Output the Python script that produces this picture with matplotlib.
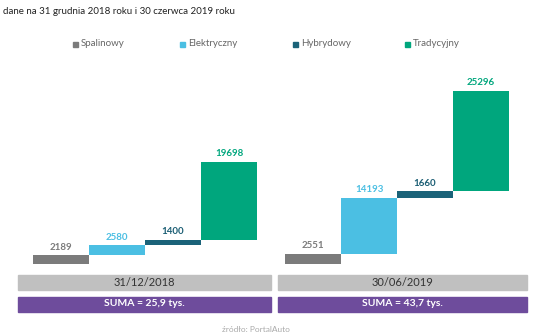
import matplotlib.pyplot as plt
from matplotlib.patches import Rectangle

# data
categories = ["Spalinowy", "Elektryczny", "Hybrydowy", "Tradycyjny"]
dates = ["31/12/2018", "30/06/2019"]
values_2018 = [2189, 2580, 1400, 19698]
values_2019 = [2551, 14193, 1660, 25296]
sums = ["SUMA = 25,9 tys.", "SUMA = 43,7 tys."]

colors = ["#7b7b7b", "#4bbfe3", "#1b6379", "#00a67d"]
label_colors = ["#7b7b7b", "#4bbfe3", "#1b5e74", "#00a67d"]

plt.rcParams['font.family'] = ['Lato', 'DejaVu Sans']

W, H = 536, 332
fig = plt.figure(figsize=(W / 100, H / 100), dpi=100)

def fx(px):
    return px / W

def fy(py):
    return 1 - py / H

# axes spanning the bar area; bar width = 1 unit = 56 px, first centre at 61 px
ax_l, ax_r = 18, 527
ax_t, ax_b = 60, 264
ax = fig.add_axes([fx(ax_l), fy(ax_b), fx(ax_r - ax_l), (ax_b - ax_t) / H])
ax.set_xlim((ax_l - 61) / 56, (ax_r - 61) / 56)
ax.set_ylim(0, (ax_b - ax_t) * 252.5)
ax.axis('off')

group_starts = [0, 4.5]
for start, vals in zip(group_starts, [values_2018, values_2019]):
    bottom = 0
    for i, v in enumerate(vals):
        ax.bar(start + i, v, bottom=bottom, width=1.0, color=colors[i])
        ax.text(start + i, bottom + v + 900, str(v), ha='center', va='bottom',
                fontsize=7, fontweight='bold', color=label_colors[i])
        bottom += v

# date and sum bands
bands = [(18, 271), (278, 527)]
for (x0, x1), d, s in zip(bands, dates, sums):
    fig.patches.append(Rectangle((fx(x0), fy(290)), fx(x1 - x0), 15.5 / H,
                                 transform=fig.transFigure, color="#c0c0c0"))
    fig.text(fx((x0 + x1) / 2), fy(282), d, ha='center', va='center',
             fontsize=8, color="#333333")
    fig.patches.append(Rectangle((fx(x0), fy(312)), fx(x1 - x0), 15.5 / H,
                                 transform=fig.transFigure, color="#6e4c9c"))
    fig.text(fx((x0 + x1) / 2), fy(304), s, ha='center', va='center',
             fontsize=7.5, fontweight='bold', color="white")

# legend
legend_x = [73, 180, 293, 405]
for x, c, name in zip(legend_x, colors, categories):
    fig.patches.append(Rectangle((fx(x), fy(46.5)), 5 / W, 5 / H,
                                 transform=fig.transFigure, color=c))
    fig.text(fx(x + 8), fy(44), name, ha='left', va='center',
             fontsize=7, color="#666666")

# subtitle
fig.text(fx(3), fy(12), "dane na 31 grudnia 2018 roku i 30 czerwca 2019 roku",
         ha='left', va='center', fontsize=7, color="#222222")

# source (cut at the bottom edge, as in the original)
fig.text(fx(222), fy(326), "źródło: PortalAuto", ha='left', va='top',
         fontsize=6, color="#aaaaaa")

fig.savefig("out.png", dpi=100)
